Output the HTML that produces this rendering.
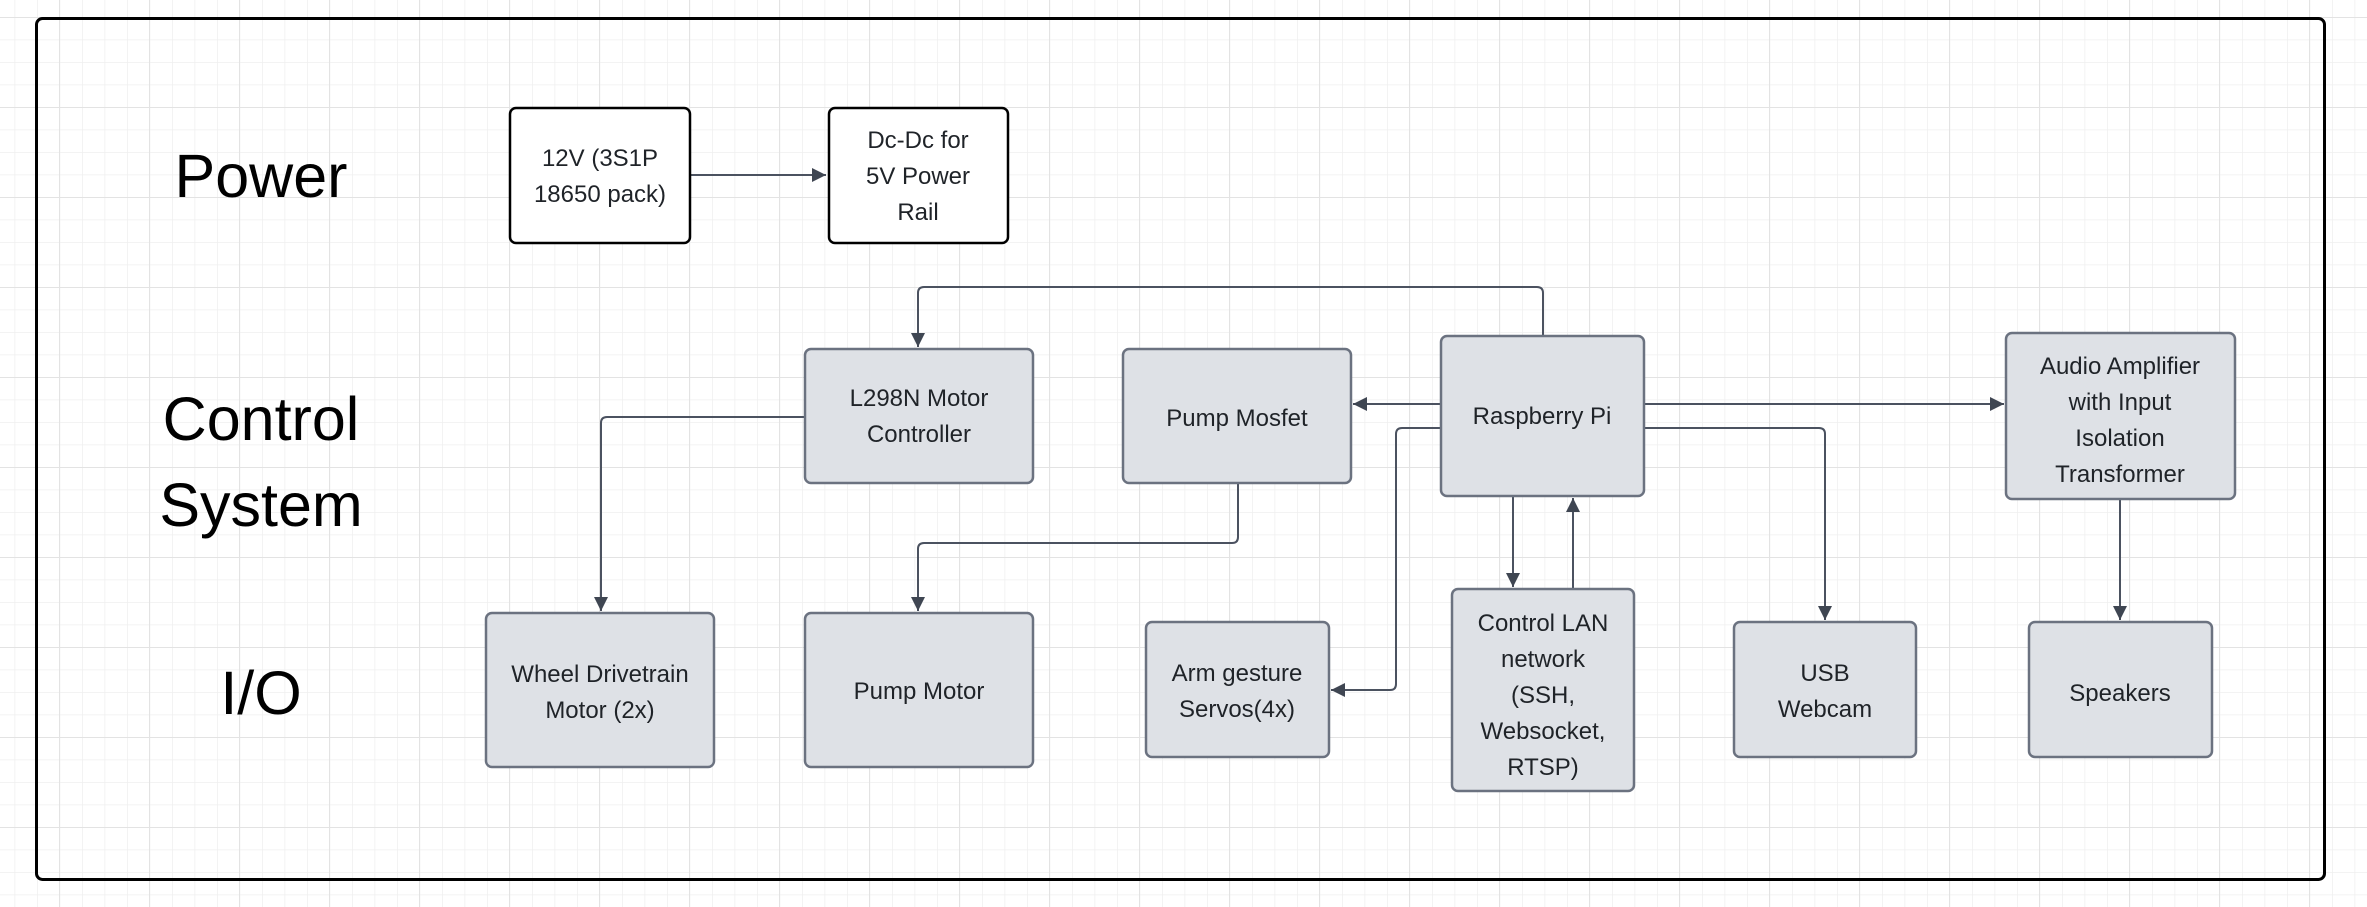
<!DOCTYPE html>
<html><head><meta charset="utf-8"><style>
html,body{margin:0;padding:0;background:#fff;}
svg{display:block;}
text{font-family:"Liberation Sans",sans-serif;}
</style></head><body>
<svg width="2367" height="907" viewBox="0 0 2367 907" xmlns="http://www.w3.org/2000/svg">
<defs>
<pattern id="minor" x="14.5" y="17" width="22.5" height="22.5" patternUnits="userSpaceOnUse">
<path d="M0 0H22.5M0 0V22.5" stroke="#efefef" stroke-width="1.5" fill="none"/>
</pattern>
<pattern id="major" x="59" y="17" width="90" height="90" patternUnits="userSpaceOnUse">
<path d="M0 0H90M0 0V90" stroke="#e3e3e3" stroke-width="2" fill="none"/>
</pattern>
<marker id="ah" viewBox="0 0 10 10" refX="10" refY="5" markerWidth="14" markerHeight="14" markerUnits="userSpaceOnUse" orient="auto">
<path d="M0 0L10 5L0 10z" fill="#3f4652"/>
</marker>
</defs>
<rect width="2367" height="907" fill="#fff"/>
<rect width="2367" height="907" fill="url(#minor)"/>
<rect width="2367" height="907" fill="url(#major)"/>
<rect x="36.5" y="18.5" width="2288" height="861" rx="6" fill="none" stroke="#000" stroke-width="3"/>

<g font-size="61" fill="#000" text-anchor="middle">
<text x="261" y="197">Power</text>
<text x="261" y="440">Control</text>
<text x="261" y="526">System</text>
<text x="261" y="714">I/O</text>
</g>

<g fill="none" stroke="#4b5260" stroke-width="2">
<path d="M690 175H826" marker-end="url(#ah)"/>
<path d="M1543 335V293q0-6-6-6H924q-6 0-6 6V347" marker-end="url(#ah)"/>
<path d="M805 417H607q-6 0-6 6V611" marker-end="url(#ah)"/>
<path d="M1238 483V537q0 6-6 6H924q-6 0-6 6V611" marker-end="url(#ah)"/>
<path d="M1441 404H1353" marker-end="url(#ah)"/>
<path d="M1441 428H1402q-6 0-6 6V684q0 6-6 6H1331" marker-end="url(#ah)"/>
<path d="M1513 496V587" marker-end="url(#ah)"/>
<path d="M1573 589V498" marker-end="url(#ah)"/>
<path d="M1644 404H2004" marker-end="url(#ah)"/>
<path d="M1644 428H1819q6 0 6 6V620" marker-end="url(#ah)"/>
<path d="M2120 499V620" marker-end="url(#ah)"/>
</g>

<g stroke="#000" stroke-width="2.5" fill="#fff">
<rect x="510" y="108" width="180" height="135" rx="6"/>
<rect x="829" y="108" width="179" height="135" rx="6"/>
</g>
<g stroke="#6b7280" stroke-width="2.5" fill="#dee1e6">
<rect x="805" y="349" width="228" height="134" rx="6"/>
<rect x="1123" y="349" width="228" height="134" rx="6"/>
<rect x="1441" y="336" width="203" height="160" rx="6"/>
<rect x="2006" y="333" width="229" height="166" rx="6"/>
<rect x="486" y="613" width="228" height="154" rx="6"/>
<rect x="805" y="613" width="228" height="154" rx="6"/>
<rect x="1146" y="622" width="183" height="135" rx="6"/>
<rect x="1452" y="589" width="182" height="202" rx="6"/>
<rect x="1734" y="622" width="182" height="135" rx="6"/>
<rect x="2029" y="622" width="183" height="135" rx="6"/>
</g>

<g font-size="24" fill="#1f2328" text-anchor="middle">
<text x="600" y="166">12V (3S1P</text>
<text x="600" y="202">18650 pack)</text>
<text x="918" y="148">Dc-Dc for</text>
<text x="918" y="184">5V Power</text>
<text x="918" y="220">Rail</text>
<text x="919" y="406">L298N Motor</text>
<text x="919" y="442">Controller</text>
<text x="1237" y="426">Pump Mosfet</text>
<text x="1542" y="424">Raspberry Pi</text>
<text x="2120" y="374">Audio Amplifier</text>
<text x="2120" y="410">with Input</text>
<text x="2120" y="446">Isolation</text>
<text x="2120" y="482">Transformer</text>
<text x="600" y="682">Wheel Drivetrain</text>
<text x="600" y="718">Motor (2x)</text>
<text x="919" y="699">Pump Motor</text>
<text x="1237" y="681">Arm gesture</text>
<text x="1237" y="717">Servos(4x)</text>
<text x="1543" y="631">Control LAN</text>
<text x="1543" y="667">network</text>
<text x="1543" y="703">(SSH,</text>
<text x="1543" y="739">Websocket,</text>
<text x="1543" y="775">RTSP)</text>
<text x="1825" y="681">USB</text>
<text x="1825" y="717">Webcam</text>
<text x="2120" y="701">Speakers</text>
</g>
</svg>
</body></html>
